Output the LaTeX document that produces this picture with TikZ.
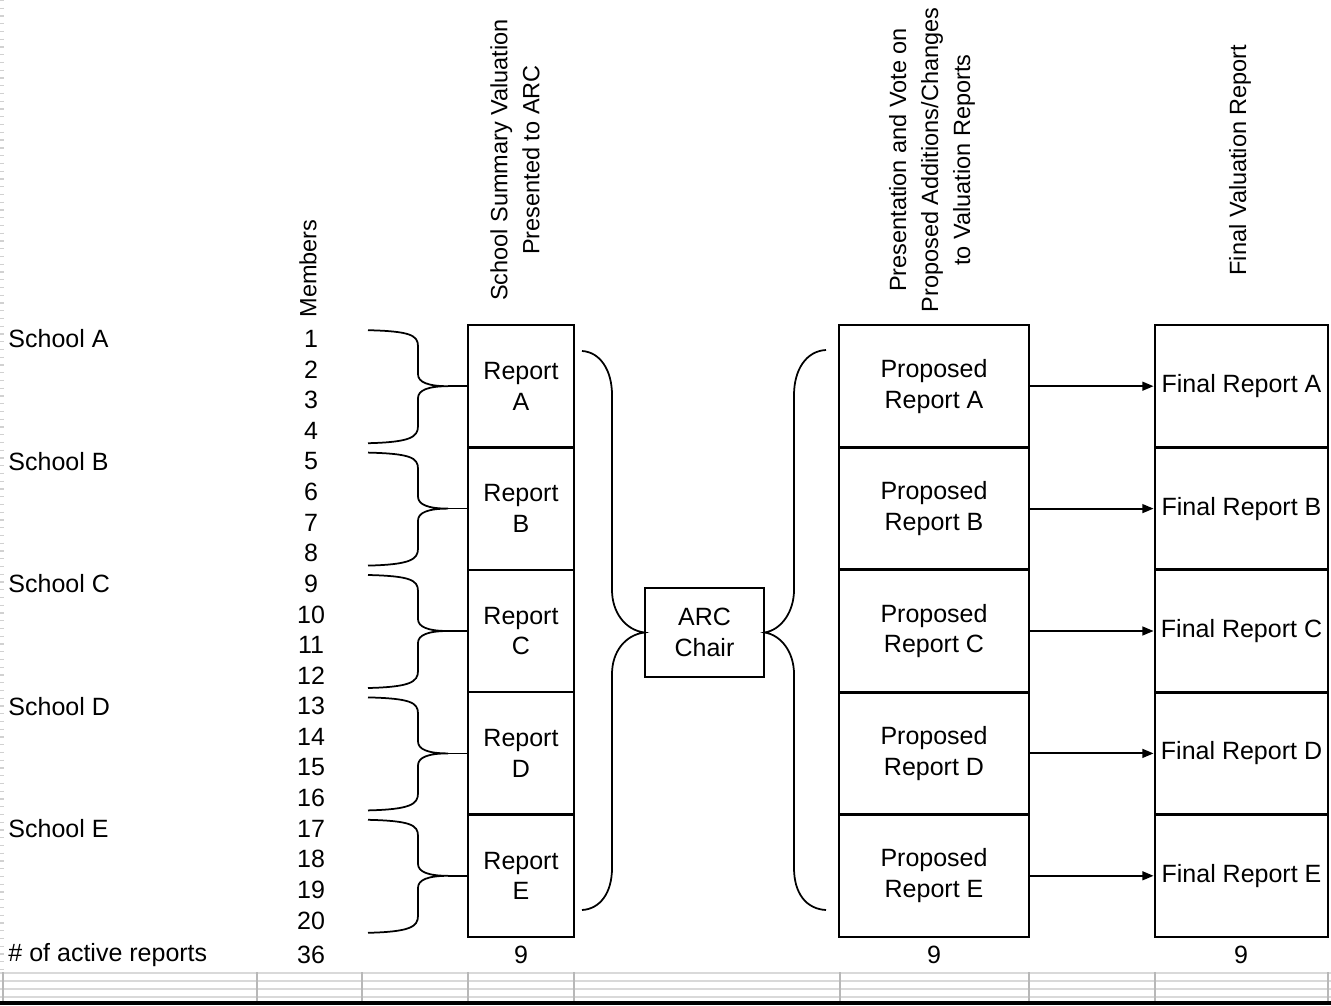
\documentclass[tikz,border=0pt]{standalone}
\usepackage{fontspec}
\setmainfont{Liberation Sans}
\usetikzlibrary{arrows.meta}
\begin{document}
\begin{tikzpicture}[x=0.4pt,y=-0.4pt,
  lab/.style={font=\fontsize{10}{12.8}\selectfont, inner sep=0},
  vlab/.style={font=\fontsize{9.4}{12.8}\selectfont, rotate=90, align=center, inner sep=0},
  box/.style={draw, line width=0.9pt, inner sep=0, align=center, font=\fontsize{10}{12.3}\selectfont, minimum height=48.96pt},
  brace/.style={line width=0.7pt},
  arr/.style={-{Triangle[length=4.5pt,width=3.5pt]}, line width=0.8pt},
  gridl/.style={draw=black!15, line width=0.8pt},
  gridv/.style={draw=black!28, line width=0.6pt}
]
\useasboundingbox (0,0) rectangle (1331,1005);

% left dotted edge
\draw[black!18, line width=1.6pt, dash pattern=on 0.5pt off 2.6pt] (2,0) -- (2,970);

% header labels
\node[vlab, anchor=west] (hmem) at (308,318) {Members};
\node[vlab] (hrep) at (515,160) {School Summary Valuation\\Presented to ARC};
\node[vlab] (hprop) at (932,160) {Presentation and Vote on\\Proposed Additions/Changes\\to Valuation Reports};
\node[vlab] (hfin) at (1240,160) {Final Valuation Report};

% member numbers
\foreach \n in {1,...,20} \node[lab] (m\n) at (311,{339+(\n-1)*30.6}) {\n};

% schools, boxes, braces, arrows
\foreach \L [count=\i] in {A,B,C,D,E} {
  \pgfmathsetmacro\yc{386.2+(\i-1)*122.4}
  \pgfmathsetmacro\ys{339+(\i-1)*4*30.6}
  \node[lab, anchor=west] (s\L) at (8,\ys) {School \L};
  \node[box, minimum width=42.4pt] (rep\L) at (521,\yc) {Report\\\L};
  \node[box, line width=1.1pt, minimum width=76pt] (prop\L) at (934,\yc) {Proposed\\Report \L};
  \node[box, line width=1.1pt, minimum width=69.2pt] (fin\L) at (1241.5,\yc) {Final Report \L};
  \coordinate (tip\L) at (448,\yc);
  \draw[brace] (368,\yc-56) .. controls (410,\yc-55) and (418,\yc-51) .. (418,\yc-40)
     -- (418,\yc-12) .. controls (418,\yc-4) and (428,\yc) .. (tip\L)
     .. controls (428,\yc) and (418,\yc+4) .. (418,\yc+12)
     -- (418,\yc+40) .. controls (418,\yc+51) and (410,\yc+56) .. (368,\yc+57);
  \draw[brace] (tip\L) -- (rep\L.west);
  \draw[arr] (prop\L.east) -- (fin\L.west);
}

% ARC chair
\node[draw, line width=0.5pt, minimum width=47.6pt, minimum height=35.6pt, inner sep=0, align=center,
      font=\fontsize{10}{12.3}\selectfont] (arc) at (704.5,632.5) {ARC\\Chair};

% big braces
\draw[brace] (582,351) .. controls (600,352) and (612,370) .. (612,395) -- (612,590)
   .. controls (612,612) and (625,630) .. (arc.west)
   .. controls (625,635) and (612,652) .. (612,674) -- (612,868)
   .. controls (612,893) and (600,909) .. (582,910);
\draw[brace] (826,350) .. controls (806,351) and (794,370) .. (794,395) -- (794,590)
   .. controls (794,612) and (781,630) .. (arc.east)
   .. controls (781,635) and (794,652) .. (794,674) -- (794,868)
   .. controls (794,893) and (806,909) .. (826,910);

% counts row
\node[lab, anchor=west] (cnt) at (8,955) {\# of active reports};
\node[lab] (c1) at (311,955) {36};
\node[lab] (c2) at (521,955) {9};
\node[lab] (c3) at (934,955) {9};
\node[lab] (c4) at (1241,955) {9};

% bottom grid
\foreach \y in {973,981,989,997} \draw[gridl] (0,\y) -- (1331,\y);
\foreach \x in {3,257,362,468,574,840,1029,1155,1328} \draw[gridv] (\x,972) -- (\x,1001);
\fill (0,1001) rectangle (1331,1005);
\end{tikzpicture}
\end{document}
